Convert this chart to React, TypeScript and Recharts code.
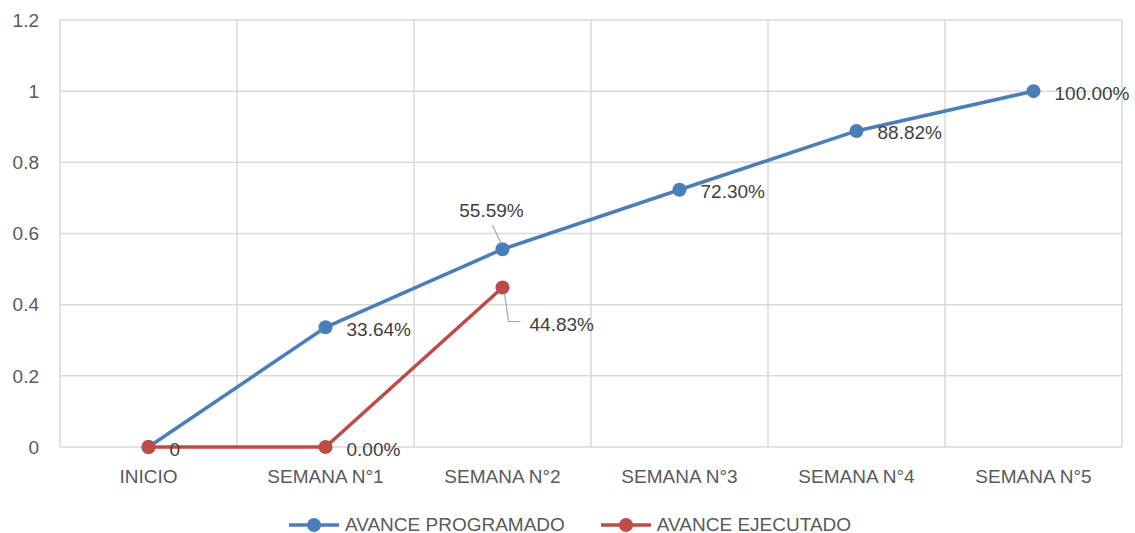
import { LineChart, Line, XAxis, YAxis, CartesianGrid, Legend } from 'recharts';

const categories = ['INICIO', 'SEMANA N°1', 'SEMANA N°2', 'SEMANA N°3', 'SEMANA N°4', 'SEMANA N°5'];
const programado = [0, 0.3364, 0.5559, 0.723, 0.8882, 1.0];
const ejecutado: (number | null)[] = [0, 0, 0.4483, null, null, null];
const yTicks = [0, 0.2, 0.4, 0.6, 0.8, 1, 1.2];

const BLUE = '#4a7ebb';
const RED = '#be4b48';
const FONT = '"Liberation Sans", Arial, sans-serif';
const TEXT = '#595959';

const data = categories.map((cat, i) => ({
    cat,
    programado: programado[i],
    ejecutado: ejecutado[i],
}));

const pct = (v: number) => (v * 100).toFixed(2) + '%';

// label placement per point: 'right' (default), 'above' or 'below' with leader lines
const progPlacement = ['none', 'right', 'above', 'right', 'right', 'right'];
const ejecPlacement = ['right', 'right', 'below'];

const makeLabel = (placement: string[], series: string) => (props: any) => {
    const { x, y, value, index } = props;
    if (value == null || x == null) return null;
    const mode = placement[index] || 'right';
    if (mode === 'none') return null;
    const text = series === 'ejecutado' && index === 0 ? '0' : pct(value);
    const style = { fontFamily: FONT, fontSize: 19, fill: '#404040' };
    if (mode === 'above') {
        return (
            <g>
                <line x1={x - 10} y1={y - 24} x2={x - 1} y2={y - 5} stroke="#a6a6a6" strokeWidth={1.2} />
                <text x={x - 11} y={y - 39} textAnchor="middle" dominantBaseline="central" style={style}>{text}</text>
            </g>
        );
    }
    if (mode === 'below') {
        return (
            <g>
                <polyline points={`${x + 2},${y + 6} ${x + 6},${y + 34} ${x + 18},${y + 34}`} fill="none" stroke="#a6a6a6" strokeWidth={1.2} />
                <text x={x + 27} y={y + 37} textAnchor="start" dominantBaseline="central" style={style}>{text}</text>
            </g>
        );
    }
    return (
        <text x={x + 21} y={y + 2} textAnchor="start" dominantBaseline="central" style={style}>{text}</text>
    );
};

const LegendIcon = ({ color }: { color: string }) => (
    <svg width={50} height={16} style={{ marginRight: 6 }}>
        <line x1={0} y1={8} x2={50} y2={8} stroke={color} strokeWidth={3.5} />
        <circle cx={25} cy={8} r={7} fill={color} />
    </svg>
);

const renderLegend = () => (
    <div style={{ display: 'flex', justifyContent: 'center', alignItems: 'flex-end', height: 36, paddingLeft: 18, position: 'relative', top: 3 }}>
        <div style={{ display: 'flex', alignItems: 'center', marginRight: 36 }}>
            <LegendIcon color={BLUE} />
            <span style={{ fontFamily: FONT, fontSize: 19, color: TEXT }}>AVANCE PROGRAMADO</span>
        </div>
        <div style={{ display: 'flex', alignItems: 'center' }}>
            <LegendIcon color={RED} />
            <span style={{ fontFamily: FONT, fontSize: 19, color: TEXT }}>AVANCE EJECUTADO</span>
        </div>
    </div>
);

export default function App() {
    return (
        <div style={{ position: 'absolute', left: 0, top: 0, width: 1135, height: 533, background: '#fff' }}>
            <LineChart width={1135} height={533} data={data} margin={{ top: 20, right: 13, bottom: 0, left: 0 }}>
                <CartesianGrid
                    stroke="#d9d9d9"
                    strokeWidth={1.5}
                    verticalCoordinatesGenerator={({ offset }: any) => {
                        const step = offset.width / categories.length;
                        return categories.map((_, i) => offset.left + i * step).concat(offset.left + offset.width);
                    }}
                />
                <XAxis
                    dataKey="cat"
                    scale="band"
                    height={50}
                    tickLine={false}
                    tickSize={6}
                    tickMargin={17}
                    axisLine={false}
                    tick={{ fontFamily: FONT, fontSize: 19, fill: TEXT }}
                    interval={0}
                />
                <YAxis
                    width={60}
                    domain={[0, 1.2]}
                    ticks={yTicks}
                    tickFormatter={(v: number) => String(Number(v.toFixed(1)))}
                    axisLine={false}
                    tickLine={false}
                    tickSize={6}
                    tickMargin={15}
                    tick={{ fontFamily: FONT, fontSize: 19, fill: TEXT }}
                />
                <Legend verticalAlign="bottom" content={renderLegend} wrapperStyle={{ bottom: 0 }} />
                <Line
                    dataKey="programado"
                    stroke={BLUE}
                    strokeWidth={3.5}
                    dot={{ r: 7, fill: BLUE, stroke: BLUE, strokeWidth: 0 }}
                    label={makeLabel(progPlacement, 'programado')}
                    isAnimationActive={false}
                />
                <Line
                    dataKey="ejecutado"
                    stroke={RED}
                    strokeWidth={3.5}
                    dot={{ r: 7, fill: RED, stroke: RED, strokeWidth: 0 }}
                    label={makeLabel(ejecPlacement, 'ejecutado')}
                    isAnimationActive={false}
                />
            </LineChart>
        </div>
    );
}
